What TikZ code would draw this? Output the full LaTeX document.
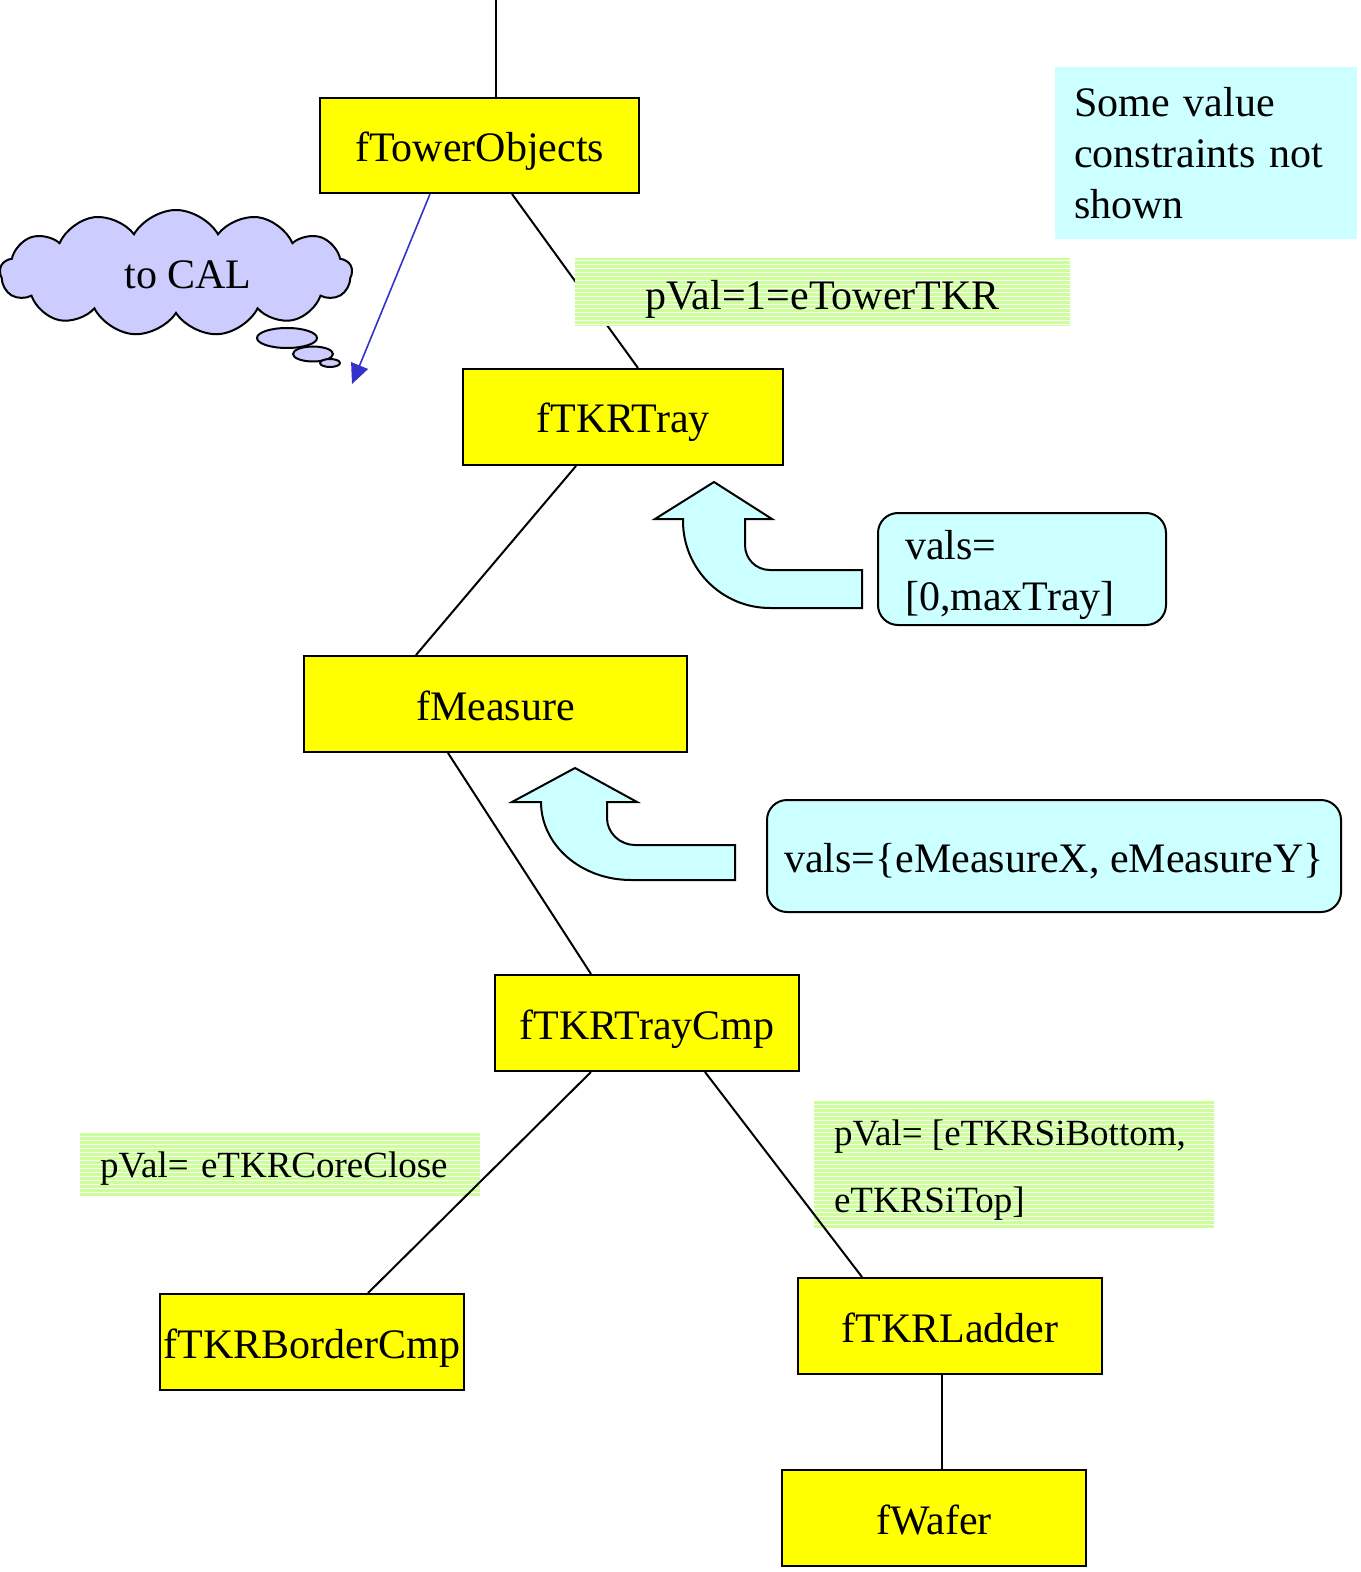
\documentclass[tikz,border=0pt]{standalone}
\usepackage{fontspec}
\setmainfont{Liberation Serif}
\usetikzlibrary{arrows.meta,shapes.symbols,patterns.meta}
\definecolor{boxyellow}{HTML}{FFFF00}
\definecolor{notecyan}{HTML}{CCFFFF}
\definecolor{cloudblue}{HTML}{CCCCFF}
\definecolor{tagreen}{HTML}{CCFF99}
\definecolor{calblue}{HTML}{3333CC}
\tikzset{font=\fontsize{21}{25.5}\selectfont}
\tikzstyle{obj}=[rectangle,draw,fill=boxyellow,line width=1pt,minimum width=152pt,minimum height=48pt,inner sep=0pt,text height=16pt,text depth=0pt]
\tikzstyle{pval}=[preaction={fill=tagreen},pattern={Lines[angle=0,distance=2pt,line width=0.45pt]},pattern color=white,inner sep=0pt]
\tikzstyle{vals}=[rectangle,rounded corners=10pt,draw,fill=notecyan,line width=1pt,minimum height=56pt]
\tikzstyle{upshape}=[draw,fill=notecyan,line width=1pt,line join=miter]

\begin{document}
\begin{tikzpicture}[x=0.5pt,y=-0.5pt]
\useasboundingbox (0,0) rectangle (1360,1572);
% value tags under the lines
\node[pval,minimum width=200pt,minimum height=31.5pt,text width=180pt,align=left,text height=12.5pt,text depth=0pt,font=\fontsize{18.5}{22}\selectfont] (core) at (280,1164.5) {pVal= eTKRCoreClose};
\node[pval,minimum width=200pt,minimum height=64.5pt,text height=14pt,text depth=33.5pt,font=\fontsize{18.5}{33.5}\selectfont] (si) at (1014,1164.5) {\parbox[t]{180pt}{pVal= [eTKRSiBottom,\\eTKRSiTop]}};
% objects
\node[obj,minimum width=159.5pt,minimum height=47.5pt] (tower) at (479.5,145.5) {fTowerObjects};
\node[obj,minimum width=160pt] (tray) at (623,417) {fTKRTray};
\node[obj,minimum width=191.5pt] (measure) at (495.5,704) {fMeasure};
\node[obj] (traycmp) at (647,1023) {fTKRTrayCmp};
\node[obj] (border) at (312,1342) {fTKRBorderCmp};
\node[obj] (ladder) at (950,1326) {fTKRLadder};
\node[obj] (wafer) at (934,1518) {fWafer};
\coordinate (top) at (496,0);
\path[line width=1pt]
(top) edge ([xshift=8.25pt]tower.north)
([xshift=16.25pt]tower.south) edge ([xshift=7.5pt]tray.north)
([xshift=-23.5pt]tray.south) edge ([xshift=-39.75pt]measure.north)
([xshift=-23.75pt]measure.south) edge ([xshift=-28pt]traycmp.north)
([xshift=-28pt]traycmp.south) edge ([xshift=28pt]border.north)
([xshift=29pt]traycmp.south) edge ([xshift=-44pt]ladder.north)
([xshift=-4pt]ladder.south) edge ([xshift=4pt]wafer.north);
\node[pval,minimum width=247.5pt,minimum height=34pt,text height=18pt,text depth=0pt] (tkr) at (822.5,292) {pVal=1=eTowerTKR};
% note
\node[fill=notecyan,minimum width=151pt,minimum height=86pt,text width=132pt,inner xsep=9.5pt,inner ysep=0pt,align=left] (note) at (1206,153) {Some value\\constraints not\\shown};
% to CAL
\node[cloud,cloud puffs=13,cloud puff arc=120,aspect=2.7,draw,fill=cloudblue,line width=1pt,minimum width=176pt,minimum height=63pt,inner sep=0pt,text height=16pt,text depth=0pt] (cal) at (176,273) {\hspace*{12pt}to CAL};
\draw[fill=cloudblue,line width=1pt] (287,338) ellipse [x radius=15pt,y radius=5pt];
\draw[fill=cloudblue,line width=1pt] (313,354) ellipse [x radius=10pt,y radius=3.75pt];
\draw[fill=cloudblue,line width=1pt] (330,363) ellipse [x radius=5pt,y radius=2pt];
\coordinate (calend) at (352,384);
\draw[calblue,line width=0.8pt,-{Triangle[length=10pt,width=9pt]}] ([xshift=-24.75pt]tower.south) -- (calend);
% value ranges
\draw[upshape] (714,482) -- (772,519) -- (745,519) -- (745,545) .. controls (745,559) and (756,570) .. (770,570) -- (862,570) -- (862,608) -- (770,608) .. controls (722,608) and (683,569) .. (683,521) -- (683,519) -- (655,519) -- cycle;
\node[vals,inner xsep=13.5pt,text height=16pt,text depth=26pt] (trayvals) at (1022,569) {\parbox[t]{117pt}{vals=\\{}[0,maxTray]}};
\draw[upshape] (575,768) -- (637,802) -- (607,802) -- (607,818) .. controls (607,833) and (620,845) .. (635,845) -- (735,845) -- (735,880) -- (631,880) .. controls (581,880) and (541,845) .. (541,802) -- (512,802) -- cycle;
\node[vals,minimum width=287pt,text height=16pt,text depth=0pt] (measvals) at (1054,856) {vals=\{eMeasureX, eMeasureY\}};
\end{tikzpicture}
\end{document}
